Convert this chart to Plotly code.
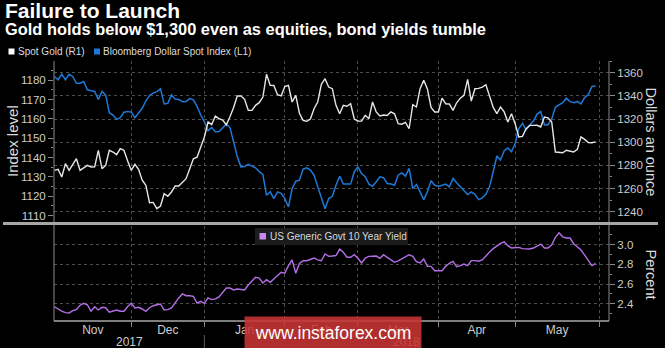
import pandas as pd
import plotly.graph_objects as go

# ---------------------------------------------------------------- data
HOLIDAYS = ["2017-12-25", "2018-01-01"]
dates = [d.strftime("%Y-%m-%d")
         for d in pd.bdate_range("2017-11-02", "2018-05-31")
         if d.strftime("%Y-%m-%d") not in HOLIDAYS]

# Bloomberg Dollar Spot Index (left axis)
dollar_index = [
    1181.9, 1180.2, 1183.1, 1180.2, 1183.1, 1181.9, 1178.4, 1178.4, 1179.3, 1175.0,
    1174.5, 1174.2, 1170.1, 1174.1, 1172.4, 1163.2, 1162.0, 1159.8, 1160.6, 1163.4,
    1163.8, 1163.5, 1160.6, 1162.9, 1165.5, 1169.3, 1172.1, 1173.3, 1174.1, 1175.5,
    1167.7, 1168.0, 1172.4, 1170.3, 1170.0, 1168.9, 1169.0, 1170.5, 1169.8, 1166.5,
    1162.0, 1158.6, 1153.9, 1155.5, 1153.4, 1153.5, 1155.6, 1157.3, 1155.5, 1148.5,
    1140.5, 1135.2, 1135.4, 1136.5, 1135.5, 1134.7, 1132.7, 1131.3, 1120.5, 1122.3,
    1118.8, 1122.3, 1121.5, 1118.8, 1114.5, 1124.0, 1127.8, 1128.3, 1134.0, 1134.7,
    1133.5, 1130.9, 1125.0, 1119.0, 1113.6, 1118.8, 1120.0, 1125.7, 1130.4, 1126.3,
    1126.3, 1126.3, 1132.7, 1135.2, 1131.8, 1130.1, 1126.3, 1125.2, 1127.5, 1130.1,
    1129.6, 1126.6, 1126.4, 1125.7, 1130.9, 1132.1, 1130.4, 1134.4, 1124.0, 1126.1,
    1122.3, 1118.3, 1122.3, 1128.0, 1125.7, 1125.2, 1125.7, 1126.3, 1124.9, 1129.2,
    1127.0, 1124.9, 1122.5, 1120.9, 1122.3, 1121.0, 1118.3, 1119.2, 1121.0, 1125.0,
    1132.7, 1140.8, 1138.7, 1143.5, 1145.0, 1143.0, 1147.3, 1155.0, 1157.7, 1154.3,
    1156.9, 1158.9, 1162.5, 1163.8, 1156.9, 1157.0, 1160.0, 1166.0, 1167.2, 1168.4,
    1170.7, 1168.9, 1168.4, 1169.0, 1167.7, 1171.0, 1172.6, 1176.7, 1177.0,
]

# Spot gold, dollars an ounce (right axis)
spot_gold = [
    1275.7, 1276.5, 1269.9, 1281.4, 1275.7, 1281.0, 1285.7, 1275.7, 1277.7, 1280.0,
    1278.6, 1278.8, 1293.0, 1277.1, 1280.0, 1293.0, 1291.5, 1289.2, 1294.4, 1293.0,
    1284.0, 1275.7, 1280.9, 1276.5, 1267.1, 1262.7, 1247.7, 1248.0, 1242.6, 1244.9,
    1255.5, 1253.3, 1257.0, 1262.2, 1262.2, 1265.6, 1268.5, 1277.0, 1285.7, 1287.0,
    1295.0, 1304.5, 1317.4, 1315.1, 1322.6, 1320.3, 1319.0, 1315.0, 1322.0, 1330.0,
    1339.9, 1340.0, 1337.0, 1327.5, 1327.5, 1331.8, 1334.1, 1339.0, 1358.6, 1349.1,
    1349.0, 1341.0, 1340.0, 1348.0, 1349.0, 1334.7, 1340.4, 1325.0, 1318.9, 1318.0,
    1320.0, 1328.9, 1334.7, 1350.0, 1354.8, 1347.6, 1346.2, 1331.8, 1324.6, 1331.8,
    1331.0, 1333.2, 1320.0, 1318.3, 1318.2, 1323.2, 1320.3, 1334.7, 1326.1, 1322.6,
    1323.5, 1323.0, 1326.1, 1324.5, 1316.0, 1315.5, 1317.0, 1311.6, 1332.4, 1330.4,
    1346.2, 1353.4, 1346.0, 1330.0, 1326.1, 1326.1, 1338.0, 1333.2, 1333.0, 1327.5,
    1334.0, 1338.0, 1340.4, 1354.2, 1335.5, 1346.2, 1346.5, 1347.6, 1349.6, 1340.0,
    1330.0, 1324.6, 1330.4, 1326.1, 1317.4, 1324.6, 1316.0, 1304.5, 1305.0, 1311.6,
    1314.5, 1314.5, 1314.6, 1313.1, 1321.7, 1321.0, 1317.4, 1291.5, 1290.9, 1290.9,
    1293.0, 1292.5, 1291.5, 1293.8, 1304.5, 1302.4, 1299.6, 1299.5, 1300.2,
]

# US generic government 10-year yield, percent
us_10y_yield = [
    2.370, 2.347, 2.325, 2.310, 2.307, 2.330, 2.340, 2.385, 2.405, 2.390,
    2.324, 2.370, 2.337, 2.364, 2.360, 2.314, 2.324, 2.337, 2.324, 2.324,
    2.370, 2.408, 2.357, 2.364, 2.347, 2.324, 2.360, 2.380, 2.390, 2.398,
    2.337, 2.340, 2.357, 2.415, 2.459, 2.500, 2.482, 2.482, 2.476, 2.408,
    2.425, 2.405, 2.459, 2.442, 2.450, 2.470, 2.510, 2.560, 2.560, 2.540,
    2.550, 2.545, 2.540, 2.590, 2.628, 2.669, 2.660, 2.611, 2.645, 2.618,
    2.652, 2.686, 2.720, 2.710, 2.787, 2.845, 2.710, 2.810, 2.837, 2.837,
    2.855, 2.865, 2.845, 2.837, 2.906, 2.882, 2.885, 2.890, 2.956, 2.923,
    2.872, 2.872, 2.898, 2.862, 2.814, 2.865, 2.882, 2.885, 2.885, 2.862,
    2.898, 2.872, 2.848, 2.821, 2.835, 2.855, 2.872, 2.898, 2.882, 2.828,
    2.814, 2.855, 2.780, 2.780, 2.736, 2.736, 2.736, 2.780, 2.811, 2.831,
    2.777, 2.787, 2.804, 2.787, 2.838, 2.838, 2.832, 2.845, 2.890, 2.925,
    2.960, 2.990, 3.014, 3.030, 2.990, 2.966, 2.970, 2.973, 2.960, 2.956,
    2.956, 2.966, 2.990, 3.007, 2.966, 2.966, 3.000, 3.075, 3.120, 3.080,
    3.068, 3.068, 3.010, 2.980, 2.946, 2.895, 2.838, 2.787, 2.810,
]

month_labels = ["Nov", "Dec", "Jan", "Feb", "Mar", "Apr", "May"]
month_label_at = ["2017-11-16 12:00", "2017-12-15", "2018-01-17", "2018-02-15",
                  "2018-03-16", "2018-04-16 12:00", "2018-05-16 12:00"]
month_starts = ["2017-12-01", "2018-01-02", "2018-02-01", "2018-03-01",
                "2018-04-02", "2018-05-01", "2018-06-01"]
year_labels = ["2017", "2018"]
year_label_at = ["2017-11-30 12:00", "2018-03-20 09:00"]

assert len(dates) == len(dollar_index) == len(spot_gold) == len(us_10y_yield)

# ---------------------------------------------------------------- geometry / style
W, H = 665, 348
ML, MR, MT, MB = 54, 56, 61, 27
PW, PH = W - ML - MR, H - MT - MB


def px_x(p):
    return (p - ML) / PW


def px_y(p):
    return (H - MB - p) / PH


FONT = "Liberation Sans"
GRID = "#4e4e4e"
AXIS = "#8a8a8a"
TICK_TXT = "#cdcdcd"
GOLD_C = "#e6e6e6"
DXY_C = "#1f78d6"
YLD_C = "#b46fe6"

breaks = [dict(bounds=["sat", "mon"]), dict(values=HOLIDAYS)]
x_range = ["2017-11-01 21:00", "2018-06-05 16:00"]
month_grid = dict(tickmode="array", tickvals=month_starts, showgrid=True,
                  gridcolor=GRID, griddash="dot", gridwidth=1)

fig = go.Figure()
fig.add_trace(go.Scatter(x=dates, y=dollar_index, xaxis="x", yaxis="y", mode="lines",
                         line=dict(color=DXY_C, width=1.5), showlegend=False))
fig.add_trace(go.Scatter(x=dates, y=spot_gold, xaxis="x", yaxis="y2", mode="lines",
                         line=dict(color=GOLD_C, width=1.4), showlegend=False))
fig.add_trace(go.Scatter(x=dates, y=us_10y_yield, xaxis="x2", yaxis="y3", mode="lines",
                         line=dict(color=YLD_C, width=1.4), showlegend=False))

tickfont = dict(family=FONT, size=11.5, color=TICK_TXT)

fig.update_layout(
    width=W, height=H, autosize=False,
    margin=dict(l=ML, r=MR, t=MT, b=MB, pad=0),
    paper_bgcolor="#000000", plot_bgcolor="#000000",
    showlegend=False,
    xaxis=dict(type="date", range=x_range, rangebreaks=breaks, anchor="y",
               domain=[0, 1], showticklabels=False, ticks="", showgrid=False,
               zeroline=False, showline=False, minor=month_grid),
    xaxis2=dict(type="date", range=x_range, rangebreaks=breaks, anchor="y3",
                domain=[0, 1], matches="x", tickmode="array",
                tickvals=month_label_at, ticktext=month_labels, ticks="",
                tickfont=dict(family=FONT, size=12, color=TICK_TXT),
                showgrid=False, zeroline=False, showline=False,
                minor=dict(month_grid, ticks="outside", ticklen=5,
                           tickcolor=AXIS, tickwidth=1)),
    yaxis=dict(domain=[px_y(223), 1], anchor="x", side="left",
               range=[1106.2, 1189.9], tick0=1110, dtick=10,
               ticks="outside", ticklen=5, tickcolor=AXIS, tickfont=tickfont,
               showgrid=False, zeroline=False, showline=False,
               minor=dict(dtick=5, ticks="outside", ticklen=2, tickcolor=AXIS)),
    yaxis2=dict(overlaying="y", anchor="x", side="right",
                range=[1230.2, 1370.1], tick0=1240, dtick=20,
                ticks="outside", ticklen=5, tickcolor=AXIS, tickfont=tickfont,
                showgrid=True, gridcolor=GRID, griddash="dot", gridwidth=1,
                zeroline=False, showline=False,
                minor=dict(dtick=10, ticks="outside", ticklen=2, tickcolor=AXIS)),
    yaxis3=dict(domain=[0, px_y(226)], anchor="x2", side="right",
                range=[2.225, 3.19], tick0=2.4, dtick=0.2, tickformat=".1f",
                ticks="outside", ticklen=5, tickcolor=AXIS, tickfont=tickfont,
                showgrid=True, gridcolor=GRID, griddash="dot", gridwidth=1,
                zeroline=False, showline=False,
                minor=dict(dtick=0.1, ticks="outside", ticklen=2, tickcolor=AXIS)),
)

# ---------------------------------------------------------------- frame lines
shapes = [
    dict(type="line", xref="paper", yref="paper", x0=0, x1=0, y0=0, y1=1,
         line=dict(color=AXIS, width=1)),
    dict(type="line", xref="paper", yref="paper", x0=1, x1=1, y0=0, y1=1,
         line=dict(color=AXIS, width=1)),
    dict(type="line", xref="paper", yref="paper", x0=0, x1=1, y0=0, y1=0,
         line=dict(color="#a8a8a8", width=1.5)),
    # panel divider
    dict(type="line", xref="paper", yref="paper", x0=px_x(3), x1=px_x(658),
         y0=px_y(223.5), y1=px_y(223.5), line=dict(color="#a6a6a6", width=3)),
    # year divider under the axis
    dict(type="line", xref="x2", yref="paper", x0=month_starts[1], x1=month_starts[1],
         y0=px_y(335), y1=px_y(348), line=dict(color="#5a5a5a", width=1)),
    # legend swatches
    dict(type="rect", xref="paper", yref="paper", x0=px_x(8.5), x1=px_x(14.5),
         y0=px_y(54.5), y1=px_y(48.5), fillcolor="#ffffff", line=dict(width=0)),
    dict(type="rect", xref="paper", yref="paper", x0=px_x(94), x1=px_x(100),
         y0=px_y(54.5), y1=px_y(48.5), fillcolor=DXY_C, line=dict(width=0)),
    # yield legend box
    dict(type="rect", xref="paper", yref="paper", x0=px_x(255), x1=px_x(408),
         y0=px_y(245), y1=px_y(228), fillcolor="#1c1c1c", line=dict(width=0)),
    dict(type="rect", xref="paper", yref="paper", x0=px_x(259.5), x1=px_x(266),
         y0=px_y(239.5), y1=px_y(233), fillcolor="#c688f2", line=dict(width=0)),
]
fig.update_layout(shapes=shapes)

# ---------------------------------------------------------------- text
def note(text, x, y, size, color, xanchor="left", yanchor="middle", bold=False,
         angle=0, **kw):
    if bold:
        text = f"<b>{text}</b>"
    fig.add_annotation(text=text, xref="paper", yref="paper", x=px_x(x), y=px_y(y),
                       xanchor=xanchor, yanchor=yanchor, showarrow=False,
                       textangle=angle,
                       font=dict(family=FONT, size=size, color=color), **kw)


note("Failure to Launch", 3, 10.5, 21, "#ffffff", bold=True)
note("Gold holds below $1,300 even as equities, bond yields tumble", 3, 29, 16.4,
     "#ffffff", bold=True)
note("Spot Gold (R1)", 15.5, 51.5, 10, "#dddddd")
note("Bloomberg Dollar Spot Index (L1)", 101, 51.5, 10, "#dddddd")
note("US Generic Govt 10 Year Yield", 267.5, 236.5, 10, "#d8d8d8")

note("Index level", 12, 141, 15, "#dcdcdc", xanchor="center", angle=-90)
note("Dollars an ounce", 650.5, 142, 14.5, "#dcdcdc", xanchor="center", angle=90)
note("Percent", 650.5, 274, 14.5, "#dcdcdc", xanchor="center", angle=90)

for lab, at in zip(year_labels, year_label_at):
    fig.add_annotation(text=lab, xref="x2", yref="paper", x=at, y=px_y(342),
                       xanchor="center", yanchor="middle", showarrow=False,
                       font=dict(family=FONT, size=12, color=TICK_TXT))

# site stamp along the bottom edge
fig.add_annotation(text="www.instaforex.com", xref="paper", yref="paper",
                   x=px_x(333), y=px_y(332.5), xanchor="center", yanchor="middle",
                   showarrow=False, width=176, height=31, borderpad=0,
                   bgcolor="rgba(200,52,52,0.88)",
                   font=dict(family=FONT, size=17.5, color="#ffffff"))

fig.write_html("out.html", config={"displayModeBar": False})
